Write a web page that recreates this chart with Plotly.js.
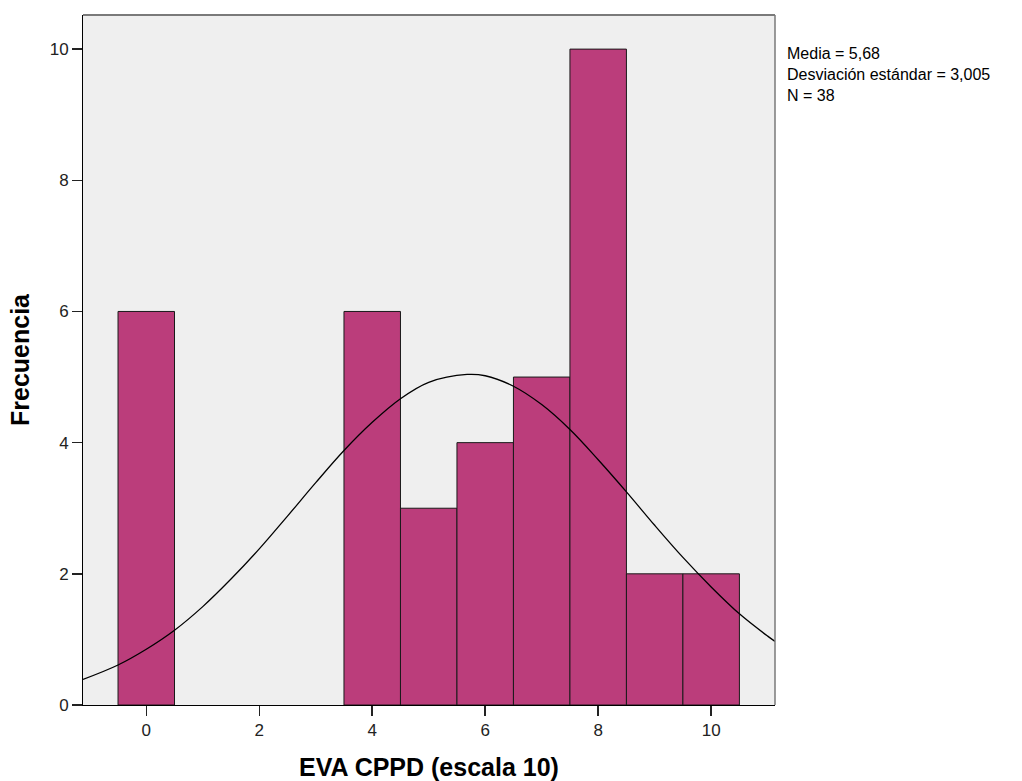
<!DOCTYPE html>
<html>
<head>
<meta charset="utf-8">
<script src="https://cdn.plot.ly/plotly-3.0.1.min.js"></script>
<style>html,body{margin:0;padding:0;background:#fff;}#chart{width:1022px;height:781px;}</style>
</head>
<body>
<div id="chart"></div>
<script>
// Histogram bins (bin centre) and frequencies
const binCenters = [0, 4, 5, 6, 7, 8, 9, 10];
const frequencies = [6, 6, 3, 4, 5, 10, 2, 2];

// Normal curve
const curveX = [-1.12, -0.5, 0, 0.5, 1, 1.5, 2, 2.5, 3, 3.5, 4, 4.5, 5, 5.68, 6, 6.5, 7, 7.5, 8, 8.5, 9, 9.5, 10, 10.5, 11, 11.13];
const curveY = [0.39, 0.61, 0.85, 1.14, 1.50, 1.92, 2.38, 2.88, 3.39, 3.88, 4.31, 4.67, 4.92, 5.04, 5.02, 4.86, 4.58, 4.20, 3.74, 3.25, 2.74, 2.25, 1.80, 1.39, 1.05, 0.97];

const xTicks = [0, 2, 4, 6, 8, 10];
const yTicks = [0, 2, 4, 6, 8, 10];
const statsLines = ["Media = 5,68", "Desviación estándar = 3,005", "N = 38"];

const font = "Liberation Sans, Arial, sans-serif";

const traces = [
  {
    type: "bar",
    x: binCenters,
    y: frequencies,
    width: 1,
    marker: {color: "#bb3d7b", line: {color: "#1a1a1a", width: 1}},
    hoverinfo: "x+y"
  },
  {
    type: "scatter",
    mode: "lines",
    x: curveX,
    y: curveY,
    line: {color: "#000000", width: 1.3, shape: "spline"},
    hoverinfo: "skip"
  }
];

const layout = {
  width: 1022,
  height: 781,
  margin: {l: 83, r: 247, t: 15, b: 76},
  paper_bgcolor: "#ffffff",
  plot_bgcolor: "#efefef",
  showlegend: false,
  font: {family: font, size: 17, color: "#222"},
  xaxis: {
    range: [-1.12, 11.13],
    tickvals: xTicks,
    ticktext: xTicks.map(String),
    ticks: "outside",
    ticklen: 10,
    tickwidth: 1.5,
    tickcolor: "#222",
    showgrid: false,
    zeroline: false,
    showline: true,
    linecolor: "#000",
    linewidth: 1,
    tickfont: {size: 17, color: "#222"},
    title: {text: "EVA CPPD (escala 10)", font: {size: 25, color: "#000", family: font, weight: "bold"}, standoff: 22}
  },
  yaxis: {
    range: [0, 10.52],
    tickvals: yTicks,
    ticktext: yTicks.map(String),
    ticks: "outside",
    ticklen: 10,
    tickwidth: 1.5,
    tickcolor: "#222",
    showgrid: false,
    zeroline: false,
    showline: true,
    linecolor: "#000",
    linewidth: 1,
    tickfont: {size: 17, color: "#222"},
    title: {text: "Frecuencia", font: {size: 25, color: "#000", family: font, weight: "bold"}, standoff: 12}
  },
  shapes: [
    {type: "line", xref: "paper", yref: "paper", x0: 0, x1: 1, y0: 1, y1: 1, line: {color: "#7a7a7a", width: 2}},
    {type: "line", xref: "paper", yref: "paper", x0: 1, x1: 1, y0: 0, y1: 1, line: {color: "#7a7a7a", width: 1.5}}
  ],
  annotations: [
    {
      xref: "paper", yref: "paper",
      x: 1.0145, y: 0.959,
      xanchor: "left", yanchor: "top",
      align: "left",
      showarrow: false,
      text: statsLines.join("<br>"),
      font: {family: font, size: 16, color: "#000"}
    }
  ]
};

Plotly.newPlot("chart", traces, layout, {displayModeBar: false, staticPlot: true});
</script>
</body>
</html>
